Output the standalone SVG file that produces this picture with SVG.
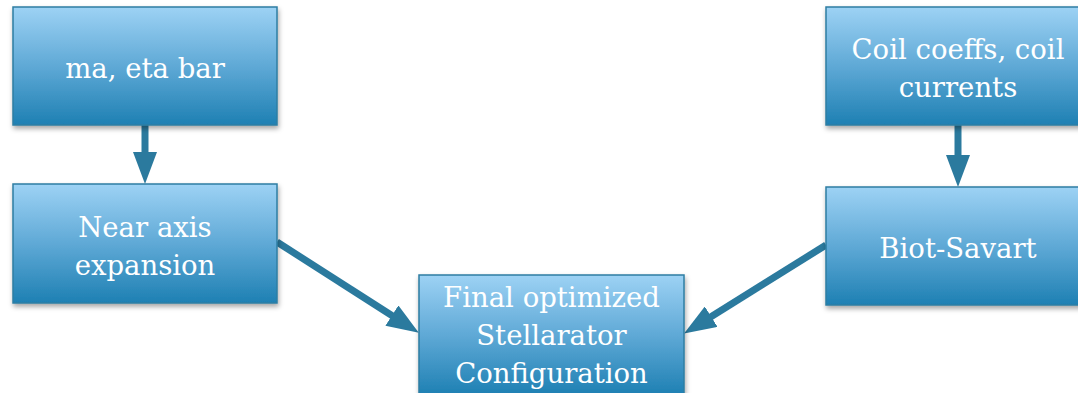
<svg xmlns="http://www.w3.org/2000/svg" width="1078" height="393" viewBox="0 0 1078 393">
<style>
.box{fill:url(#g);stroke:#2E7EA3;stroke-width:1.5;filter:url(#sh)}
.t{font-family:'DejaVu Serif',serif;font-size:27.5px;fill:#ffffff;text-anchor:middle}
.c{stroke:#2B7A9E;stroke-width:7;fill:none;marker-end:url(#ah)}
</style>
<defs>
<linearGradient id="g" x1="0" y1="0" x2="0" y2="1">
<stop offset="0" stop-color="#9DD2F4"/>
<stop offset="0.5" stop-color="#5FA9D6"/>
<stop offset="1" stop-color="#1E80B3"/>
</linearGradient>
<filter id="sh" x="-10%" y="-10%" width="120%" height="130%">
<feDropShadow dx="1" dy="3" stdDeviation="2.5" flood-color="#000" flood-opacity="0.35"/>
</filter>
<marker id="ah" viewBox="0 0 32 24" refX="12" refY="12" markerWidth="32" markerHeight="24" markerUnits="userSpaceOnUse" orient="auto">
<path d="M0,0 L32,12 L0,24 z" fill="#2B7A9E"/>
</marker>
</defs>
<g id="connectors">
<path class="c" d="M145,125 L145,164"/>
<path class="c" d="M958,125 L958,167"/>
<path class="c" d="M277,242 L402,322"/>
<path class="c" d="M826,245 L701,323"/>
</g>
<g id="n1"><rect class="box" x="13" y="7" width="264" height="118"/><text class="t" x="145" y="78">ma, eta bar</text></g>
<g id="n2"><rect class="box" x="13" y="184" width="264" height="119"/><text class="t" x="145" y="237">Near axis</text><text class="t" x="145" y="275">expansion</text></g>
<g id="n3"><rect class="box" x="419" y="275" width="265" height="120"/><text class="t" x="551.5" y="307">Final optimized</text><text class="t" x="551.5" y="345">Stellarator</text><text class="t" x="551.5" y="383">Configuration</text></g>
<g id="n4"><rect class="box" x="826" y="7" width="264" height="118"/><text class="t" x="958" y="59">Coil coeffs, coil</text><text class="t" x="958" y="97">currents</text></g>
<g id="n5"><rect class="box" x="826" y="187" width="264" height="118"/><text class="t" x="958" y="258">Biot-Savart</text></g>
</svg>
